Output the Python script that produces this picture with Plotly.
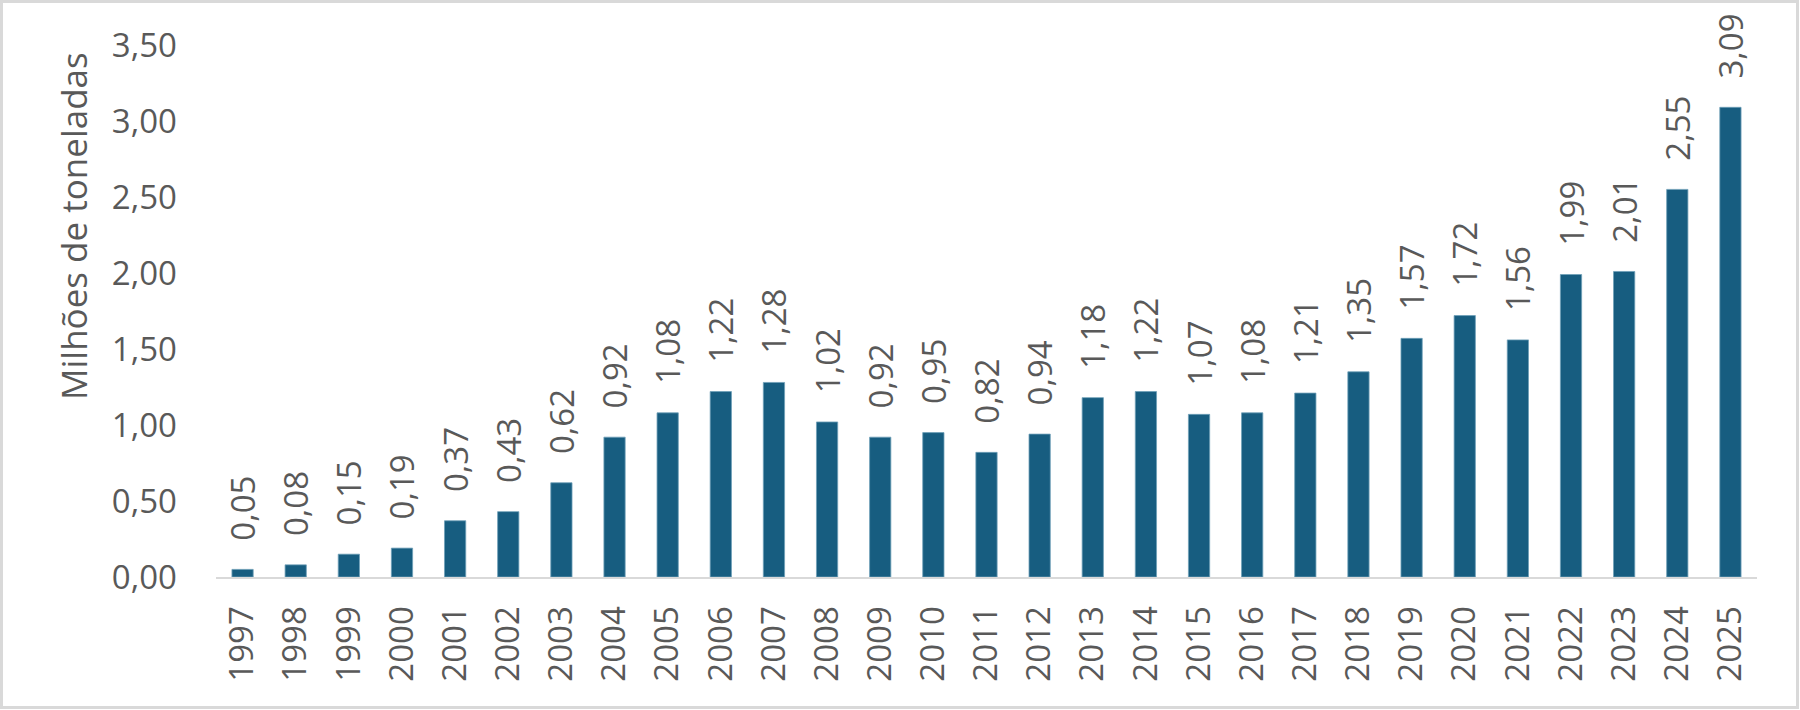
import plotly.graph_objects as go

years = [str(y) for y in range(1997, 2026)]
values = [0.05, 0.08, 0.15, 0.19, 0.37, 0.43, 0.62, 0.92, 1.08, 1.22, 1.28, 1.02, 0.92, 0.95,
          0.82, 0.94, 1.18, 1.22, 1.07, 1.08, 1.21, 1.35, 1.57, 1.72, 1.56, 1.99, 2.01, 2.55, 3.09]
y_ticks = [0, 0.5, 1.0, 1.5, 2.0, 2.5, 3.0, 3.5]
y_title = "Milhões de toneladas"

W, H = 1800, 710
L, R, T, B = 216, 43, 45, 133
pw, ph = W - L - R, H - T - B

FONT = "Open Sans"
GRAY = "#595959"
BAR = "#175d80"
FS = 33

fig = go.Figure(go.Bar(
    x=years, y=values,
    marker=dict(color=BAR, line=dict(color="#6fa0b8", width=0.8)),
    texttemplate="\u00a0\u00a0\u00a0%{y:.2f}",
    textposition="outside",
    textangle=-90,
    constraintext="none",
    cliponaxis=False,
    textfont=dict(family=FONT, size=FS, color=GRAY),
    width=0.4,
))

fig.update_layout(
    width=W, height=H,
    margin=dict(l=L, r=R, t=T, b=B),
    paper_bgcolor="white", plot_bgcolor="white",
    separators=",.",
    showlegend=False,
    font=dict(family=FONT, color=GRAY),
)
fig.update_xaxes(
    type="category",
    showline=True, linecolor="#d9d9d9", linewidth=2,
    showgrid=False, ticks="",
    tickangle=-90,
    tickfont=dict(family=FONT, size=FS, color=GRAY),
    ticklabelstandoff=14,
)
fig.update_yaxes(
    range=[0, 3.5],
    tickvals=y_ticks, tickformat=".2f",
    showgrid=False, showline=False, zeroline=False, ticks="",
    tickfont=dict(family=FONT, size=FS, color=GRAY),
    ticklabelstandoff=38,
)
fig.add_annotation(
    text=y_title, textangle=-90, showarrow=False,
    xref="paper", yref="paper",
    x=(73 - L) / pw, y=(H - B - 226) / ph,
    xanchor="center", yanchor="middle",
    font=dict(family=FONT, size=35, color=GRAY),
)
# outer border
fig.add_shape(
    type="rect", xref="paper", yref="paper",
    x0=(1.5 - L) / pw, x1=(W - 2.5 - L) / pw,
    y0=-(B - 2.5) / ph, y1=1 + (T - 1.5) / ph,
    line=dict(color="#d9d9d9", width=3), fillcolor="rgba(0,0,0,0)", layer="below",
)

fig.write_html("out.html", config={"displayModeBar": False},
               post_script="document.body.style.margin='0';")
